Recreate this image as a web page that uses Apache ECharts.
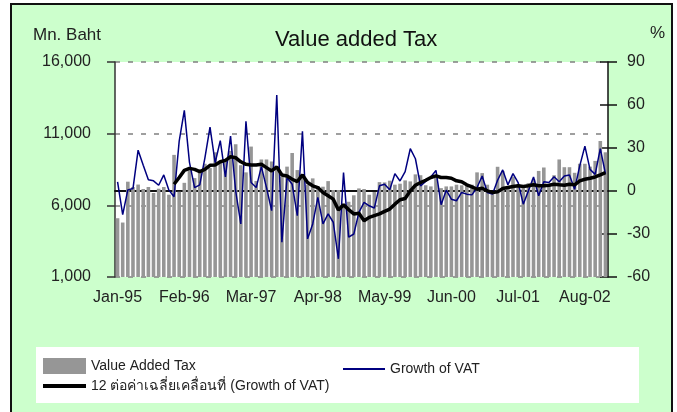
<!DOCTYPE html>
<html>
<head>
<meta charset="utf-8">
<script src="https://cdn.jsdelivr.net/npm/echarts@6/dist/echarts.min.js"></script>
<style>
html, body { margin: 0; padding: 0; background: #fff; }
#chart { width: 677px; height: 412px; }
</style>
</head>
<body>
<div id="chart"></div>
<script>
var monthNames = ['Jan','Feb','Mar','Apr','May','Jun','Jul','Aug','Sep','Oct','Nov','Dec'];
var years = ['95','96','97','98','99','00','01','02'];

// Value added tax, Mn. Baht (monthly, Jan-95 .. Dec-02)
var vat = [
	5100, 4800, 7650, 7280, 7450, 7140, 7280, 6860, 7160, 7280, 6740, 9520,
	6950, 7570, 8450, 7900, 8300, 8900, 8600, 9700, 9100, 9200, 9800, 10260,
	8800, 8300, 10100, 7700, 9200, 9200, 9060, 8600, 8000, 8700, 9650, 8460,
	8130, 7440, 7880, 7340, 7300, 7690, 7070, 7070, 6050, 6250, 6700, 7180,
	7140, 6740, 6930, 7620, 7600, 7720, 7440, 7510, 7740, 7670, 8160, 8100,
	7400, 7320, 7950, 7200, 7320, 7320, 7440, 7400, 7440, 7440, 8300, 8250,
	7440, 6900, 8690, 8400, 7280, 8000, 7440, 7200, 7550, 7800, 8400, 8640,
	7440, 8100, 9200, 8660, 8660, 8270, 8900, 8900, 8700, 9100, 10490, 9700
];
// Growth of VAT, %
var growth = [
	6.4, -16.5, 0.8, 1.7, 28.5, 17.9, 7.8, 7.1, 4.0, 11.2, 0.6, -4.0,
	34.8, 56.3, 20, 2.4, 4.3, 23, 44.5, 19.7, 35.2, 9.8, 38.3, 0,
	-23, 48.6, 5.9, 2.4, 17, 2.4, -13.7, 67, -35.7, 9.4, 4.7, -17.2,
	41.7, -33.4, -23, -4.5, -23, -16, -21.8, -47.3, 12.8, -32.2, -30, -14.9,
	-8, -10.3, -11.9, 3.6, 4.7, 0.8, 12.1, 7, 13.5, 29.5, 22.5, 3.6,
	6.6, 9.8, 14.4, -9.6, 0.6, -5.7, -6.8, -1, -2.2, -2.7, 2.4, 10.5,
	-1, -2.2, 7.5, 14.7, 4.3, 12.1, 5.9, -9.2, 0.1, 9.8, -3.3, 6.4,
	5.9, 10, 6.4, 10.5, 11.2, 1.2, 17.5, 31.3, 15.1, 11.6, 29.5, 12.1
];
// 12 month moving average of growth, %
var movingAvg = [
	null, null, null, null, null, null, null, null, null, null, null, 4.7,
	9.4, 14.4, 15.8, 15.1, 13.5, 15.1, 17.9, 18.1, 20.4, 21.4, 23.9, 23.2,
	20.4, 18.6, 18.1, 18.1, 18.6, 16.3, 14, 16.8, 11.2, 10.5, 8.2, 6.6,
	11.2, 5.9, 3.6, 2.4, -1, -3.3, -5.7, -13.3, -9.6, -13, -16, -15.6,
	-20.7, -18.4, -17.2, -16, -14.2, -12.6, -9.2, -6.1, -5.2, 0.1, 4, 5.9,
	7.5, 9.4, 10.5, 9.4, 9.4, 8.9, 7.1, 6.4, 4.3, 2.9, 1.2, 1.9,
	0.1, -1, -0.6, 1.7, 2.4, 3.1, 3.6, 3.1, 3.6, 4.3, 3.6, 3.6,
	4, 4.7, 4.3, 4, 4.7, 4.3, 7.1, 8.2, 8.9, 9.8, 11.2, 12.8
];

var months = [];
years.forEach(function(y) {
	monthNames.forEach(function(m) { months.push(m + '-' + y); });
});

var font = "'Liberation Sans', Arial, 'Noto Sans', sans-serif";
var maName = '12 ต่อค่าเฉลี่ยเคลื่อนที่ (Growth of VAT)';

var chart = echarts.init(document.getElementById('chart'));
var option = {
	backgroundColor: '#fff',
	animation: false,
	textStyle: { fontFamily: font },
	title: {
		text: 'Value added Tax',
		left: 275, top: 29, padding: 0,
		textStyle: { fontSize: 22, fontWeight: 'normal', color: '#111', fontFamily: font }
	},
	graphic: [
		{ type: 'rect', z: -10, shape: { x: 11, y: 4, width: 661, height: 430 },
			style: { fill: '#CCFFCC', stroke: '#111', lineWidth: 2 } },
		{ type: 'rect', z: -5, shape: { x: 36, y: 347, width: 603, height: 56 },
			style: { fill: '#fff' } },
		{ type: 'text', left: 33, top: 27,
			style: { text: 'Mn. Baht', fontSize: 17, fill: '#222', fontFamily: font } },
		{ type: 'text', left: 650, top: 25,
			style: { text: '%', fontSize: 17, fill: '#222', fontFamily: font } }
	],
	legend: [
		{ data: ['Value Added Tax'], left: 43, top: 358, padding: 0, icon: 'rect',
			itemWidth: 43, itemHeight: 16, selectedMode: false,
			textStyle: { fontSize: 14, color: '#222', fontFamily: font } },
		{ data: ['Growth of VAT'], left: 343, top: 362, padding: 0, icon: 'rect',
			itemWidth: 42, itemHeight: 2, selectedMode: false,
			textStyle: { fontSize: 14, color: '#222', fontFamily: font } },
		{ data: [maName], left: 43, top: 379, padding: 0, icon: 'rect',
			itemWidth: 43, itemHeight: 4, selectedMode: false,
			textStyle: { fontSize: 14, color: '#222', fontFamily: font } }
	],
	grid: { left: 115, top: 62, width: 493, height: 215, show: true, backgroundColor: '#fff', borderWidth: 0 },
	xAxis: [
		{
			type: 'category', data: months, boundaryGap: true,
			axisLine: { lineStyle: { color: '#111', width: 2 } },
			axisTick: { interval: 4, length: 8, lineStyle: { color: '#111', width: 1.5 } },
			axisLabel: { interval: 12, margin: 13, fontSize: 16, color: '#222', fontFamily: font },
			splitLine: { show: false }
		},
		{
			type: 'category', data: months, position: 'bottom',
			axisLine: { show: false },
			axisTick: { inside: true, interval: 4, length: 7, lineStyle: { color: '#111', width: 1.5 } },
			axisLabel: { show: false },
			splitLine: { show: false }
		}
	],
	yAxis: [
		{
			type: 'value', position: 'left', min: 1000, max: 16000, interval: 5000,
			axisLine: { show: true, lineStyle: { color: '#333', width: 1.5 } },
			axisTick: { show: true, length: 8, lineStyle: { color: '#333', width: 1.5 } },
			axisLabel: { margin: 24, fontSize: 16, color: '#222', fontFamily: font,
				formatter: function(v) { return v.toLocaleString('en-US'); } },
			splitLine: { lineStyle: { type: [5, 8], color: '#808080', width: 1.5 } }
		},
		{
			type: 'value', position: 'right', min: -60, max: 90, interval: 30,
			axisLine: { show: true, lineStyle: { color: '#111', width: 1.5 } },
			axisTick: { show: true, length: 9, lineStyle: { color: '#111', width: 1.5 } },
			axisLabel: { margin: 19, fontSize: 16, color: '#222', fontFamily: font },
			splitLine: { show: false }
		},
		{
			type: 'value', position: 'right', min: -60, max: 90, interval: 30,
			axisLine: { show: false },
			axisTick: { show: true, inside: true, length: 8, lineStyle: { color: '#111', width: 1.5 } },
			axisLabel: { show: false },
			splitLine: { show: false }
		}
	],
	series: [
		{
			name: 'Value Added Tax', type: 'bar', data: vat,
			xAxisIndex: 0, yAxisIndex: 0,
			barCategoryGap: '30%',
			itemStyle: { color: '#969696' }
		},
		{
			name: 'Growth of VAT', type: 'line', data: growth,
			xAxisIndex: 0, yAxisIndex: 1,
			symbol: 'none', z: 3,
			lineStyle: { color: '#000080', width: 1.5 },
			itemStyle: { color: '#000080' }
		},
		{
			name: maName, type: 'line', data: movingAvg,
			xAxisIndex: 0, yAxisIndex: 1,
			symbol: 'none', z: 4,
			lineStyle: { color: '#000', width: 3.5 },
			itemStyle: { color: '#000' }
		}
	]
};
chart.setOption(option);
</script>
</body>
</html>
